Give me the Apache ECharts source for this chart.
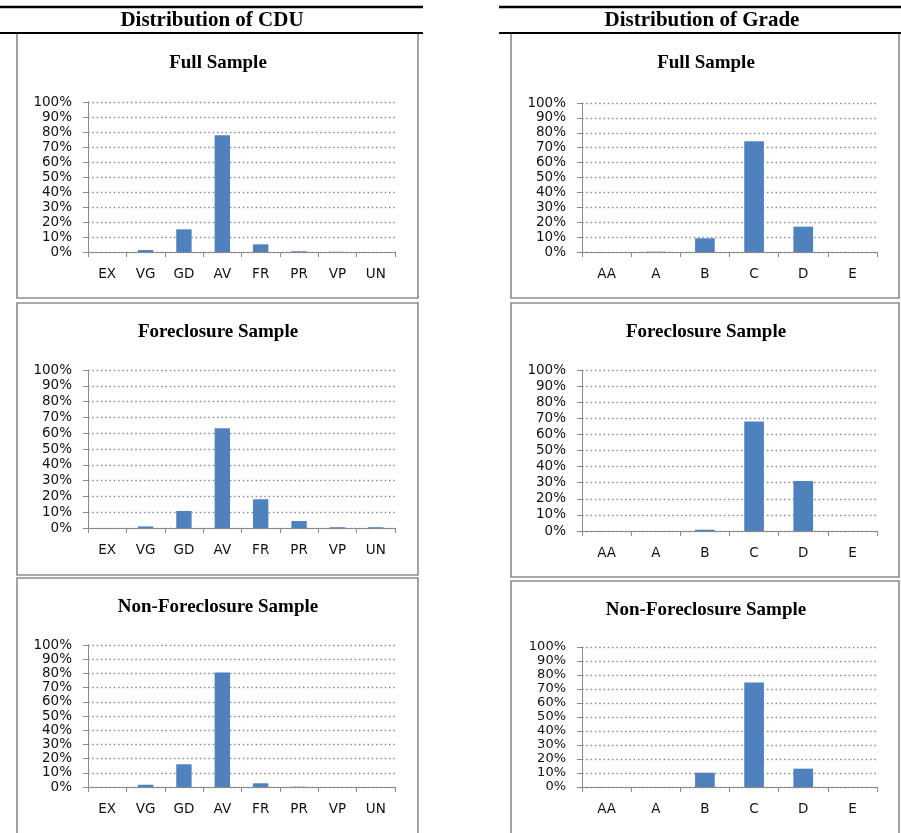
<!DOCTYPE html>
<html>
<head>
<meta charset="utf-8">
<script src="https://cdn.jsdelivr.net/npm/echarts@6/dist/echarts.min.js"></script>
<style>html,body{margin:0;padding:0;background:#fff;}#c{width:901px;height:833px;}</style>
</head>
<body>
<div id="c"></div>
<script>
// ---- data ----
var cduCategories = ['EX', 'VG', 'GD', 'AV', 'FR', 'PR', 'VP', 'UN'];
var gradeCategories = ['AA', 'A', 'B', 'C', 'D', 'E'];
var cduFull = [0, 1.3, 15.1, 77.8, 5.1, 0.5, 0.1, 0];
var cduForeclosure = [0, 1.0, 10.8, 63.1, 18.2, 4.4, 0.5, 0.5];
var cduNonForeclosure = [0, 1.6, 16.0, 80.7, 2.6, 0.2, 0, 0];
var gradeFull = [0, 0.2, 9.2, 74.3, 17.0, 0];
var gradeForeclosure = [0, 0, 0.8, 68.0, 31.0, 0];
var gradeNonForeclosure = [0, 0, 10.2, 74.6, 13.1, 0];
var yTicks = [0, 10, 20, 30, 40, 50, 60, 70, 80, 90, 100];
var headingLeft = 'Distribution of CDU';
var headingRight = 'Distribution of Grade';
var panelTitles = ['Full Sample', 'Foreclosure Sample', 'Non-Foreclosure Sample'];

// ---- layout ----
var panels = [
  {cats: cduCategories, data: cduFull, grid: {left: 88, top: 102, width: 307, height: 150}, title: [218, 63], fs: 13.5},
  {cats: gradeCategories, data: gradeFull, grid: {left: 582, top: 103, width: 295, height: 149}, title: [706, 63], fs: 13.5},
  {cats: cduCategories, data: cduForeclosure, grid: {left: 88, top: 370, width: 307, height: 158}, title: [218, 332], fs: 13.5},
  {cats: gradeCategories, data: gradeForeclosure, grid: {left: 582, top: 370, width: 295, height: 161}, title: [706, 332], fs: 13.5},
  {cats: cduCategories, data: cduNonForeclosure, grid: {left: 88, top: 645, width: 307, height: 142}, title: [218, 607], fs: 13.5},
  {cats: gradeCategories, data: gradeNonForeclosure, grid: {left: 582, top: 647, width: 295, height: 140}, title: [706, 610], fs: 13}
];
var titleNames = [panelTitles[0], panelTitles[0], panelTitles[1], panelTitles[1], panelTitles[2], panelTitles[2]];

var sans = '"DejaVu Sans"';
var serif = '"Liberation Serif", "Times New Roman", serif';
var grids = [], xAxes = [], yAxes = [], series = [];
panels.forEach(function (p, i) {
  grids.push(Object.assign({}, p.grid));
  xAxes.push({
    type: 'category', gridIndex: i, data: p.cats,
    axisLine: {show: true, lineStyle: {color: '#8a8a8a', width: 1}},
    axisTick: {show: true, length: 5, lineStyle: {color: '#8a8a8a'}},
    axisLabel: {color: '#111', fontSize: 13.5, fontFamily: sans, margin: 15, interval: 0, hideOverlap: false}
  });
  yAxes.push({
    type: 'value', gridIndex: i, min: yTicks[0], max: yTicks[yTicks.length - 1], interval: yTicks[1] - yTicks[0],
    axisLine: {show: true, lineStyle: {color: '#8a8a8a', width: 1}},
    axisTick: {show: true, length: 5, lineStyle: {color: '#8a8a8a'}},
    axisLabel: {color: '#111', fontSize: p.fs, fontFamily: sans, margin: 16, formatter: '{value}%',
      hideOverlap: false, showMinLabel: true, showMaxLabel: true},
    splitLine: {show: true, lineStyle: {color: '#8a8a8a', width: 1.3, type: [1.5, 2.8]}}
  });
  series.push({
    type: 'bar', xAxisIndex: i, yAxisIndex: i, data: p.data, barWidth: '40%',
    itemStyle: {color: '#4F81BD'}, silent: true
  });
});

var graphic = [];
function hline(x1, x2, y, w) {
  graphic.push({type: 'line', shape: {x1: x1, y1: y, x2: x2, y2: y}, style: {stroke: '#000', lineWidth: w}, z: 10});
}
hline(0, 423, 7, 2.5);
hline(499, 901, 7, 2.5);
hline(0, 423, 33, 2);
hline(499, 901, 33, 2);
function box(x1, y1, x2, y2) {
  graphic.push({type: 'rect', shape: {x: x1, y: y1, width: x2 - x1, height: y2 - y1}, style: {fill: 'none', stroke: '#8c8c8c', lineWidth: 1.6}, z: 5});
}
box(17, 33, 418, 298);
box(17, 303, 418, 575);
box(17, 578, 418, 840);
box(511, 33, 899, 298);
box(511, 303, 899, 577);
box(511, 581, 899, 840);
function txt(s, x, y, size) {
  graphic.push({type: 'text', x: x, y: y, style: {text: s, font: 'bold ' + size + 'px ' + serif, fill: '#000', textAlign: 'center', textVerticalAlign: 'middle'}, z: 10});
}
txt(headingLeft, 212, 21, 21);
txt(headingRight, 702, 21, 21);
panels.forEach(function (p, i) { txt(titleNames[i], p.title[0], p.title[1], 19); });

var chart = echarts.init(document.getElementById('c'));
chart.setOption({
  animation: false,
  backgroundColor: '#fff',
  grid: grids, xAxis: xAxes, yAxis: yAxes, series: series,
  graphic: graphic
});
</script>
</body>
</html>
